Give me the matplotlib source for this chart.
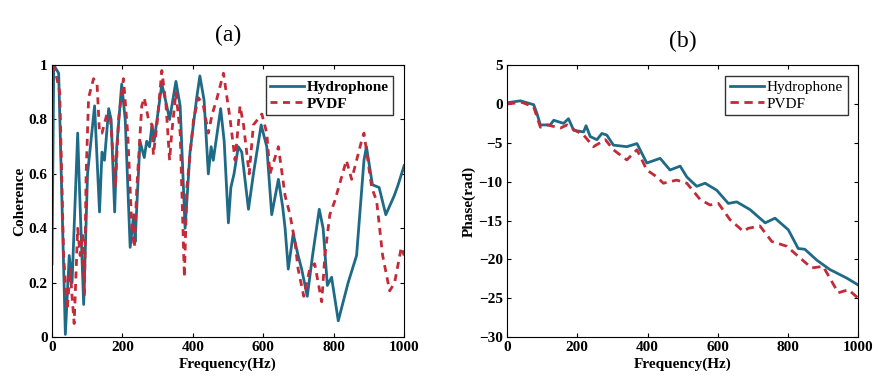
import matplotlib.pyplot as plt

plt.rcParams['font.family'] = ['Liberation Serif', 'DejaVu Serif']

TEAL = '#1f6a86'
RED = '#c42a38'

# (a) coherence
freq_hyd_a = [0, 5, 19, 38, 49, 57, 73, 78, 90, 101, 121, 135, 142, 149, 161, 168, 178, 184,
              198, 208, 222, 232, 236, 250, 262, 269, 277, 284, 290, 312, 326, 334, 352, 364,
              378, 392, 411, 420, 432, 444, 452, 458, 479, 489, 501, 508, 517, 529, 539, 558,
              572, 594, 610, 624, 643, 655, 662, 671, 685, 699, 709, 725, 740, 759, 770, 782,
              794, 813, 841, 865, 886, 893, 910, 929, 948, 972, 983, 1000]
coh_hyd = [0.27, 1.0, 0.97, 0.01, 0.30, 0.20, 0.75, 0.55, 0.12, 0.60, 0.85, 0.46, 0.68, 0.65,
           0.84, 0.80, 0.46, 0.70, 0.93, 0.80, 0.33, 0.45, 0.35, 0.72, 0.66, 0.72, 0.70, 0.78,
           0.72, 0.93, 0.85, 0.80, 0.94, 0.85, 0.40, 0.68, 0.88, 0.96, 0.87, 0.60, 0.70, 0.65,
           0.84, 0.72, 0.42, 0.55, 0.60, 0.70, 0.68, 0.47, 0.60, 0.78, 0.70, 0.45, 0.58, 0.48,
           0.40, 0.25, 0.38, 0.30, 0.25, 0.15, 0.30, 0.47, 0.40, 0.19, 0.22, 0.06, 0.20, 0.30,
           0.65, 0.70, 0.56, 0.55, 0.45, 0.52, 0.56, 0.63]

freq_pvdf_a = [0, 5, 14, 22, 33, 43, 52, 57, 63, 73, 80, 87, 92, 97, 104, 118, 128, 135, 142,
               156, 166, 180, 189, 203, 215, 227, 234, 241, 255, 262, 274, 284, 288, 298, 312,
               324, 334, 340, 352, 364, 376, 383, 402, 416, 430, 444, 455, 467, 487, 506, 520,
               534, 544, 560, 572, 596, 610, 619, 643, 662, 676, 690, 699, 715, 732, 746, 766,
               775, 789, 803, 836, 851, 879, 886, 908, 922, 939, 959, 973, 992, 1000]
coh_pvdf = [0.95, 1.0, 0.95, 0.90, 0.30, 0.10, 0.25, 0.15, 0.05, 0.40, 0.30, 0.38, 0.15, 0.60,
            0.88, 0.95, 0.93, 0.75, 0.75, 0.82, 0.80, 0.55, 0.80, 0.95, 0.75, 0.40, 0.33, 0.55,
            0.85, 0.88, 0.80, 0.78, 0.67, 0.78, 0.98, 0.85, 0.65, 0.75, 0.90, 0.75, 0.22, 0.55,
            0.80, 0.88, 0.85, 0.75, 0.82, 0.87, 0.97, 0.80, 0.65, 0.85, 0.78, 0.60, 0.78, 0.82,
            0.75, 0.60, 0.70, 0.52, 0.45, 0.35, 0.25, 0.15, 0.25, 0.27, 0.13, 0.30, 0.45, 0.50,
            0.65, 0.58, 0.72, 0.75, 0.55, 0.50, 0.30, 0.17, 0.20, 0.33, 0.30]

# (b) phase
freq_hyd_b = [0, 38, 76, 85, 95, 123, 133, 161, 175, 190, 218, 225, 237, 256, 270, 284, 303,
              341, 370, 398, 436, 464, 493, 512, 540, 564, 597, 630, 654, 692, 735, 763, 801,
              829, 848, 882, 919, 967, 1000]
phase_hyd = [0.15, 0.4, -0.1, -1.2, -2.7, -2.7, -2.1, -2.5, -1.9, -3.4, -3.6, -2.8, -4.2, -4.6,
             -3.8, -4.0, -5.3, -5.5, -5.1, -7.6, -7.0, -8.5, -8.0, -9.4, -10.6, -10.2, -11.1,
             -12.8, -12.6, -13.6, -15.3, -14.7, -16.2, -18.6, -18.7, -20.1, -21.3, -22.4, -23.3]

freq_pvdf_b = [0, 43, 76, 95, 114, 152, 171, 190, 218, 246, 280, 303, 341, 370, 398, 427, 445,
               483, 512, 550, 578, 602, 635, 673, 687, 720, 754, 796, 834, 867, 900, 943, 972, 1000]
phase_pvdf = [0.0, 0.2, -0.4, -3.0, -2.7, -3.1, -2.7, -3.3, -4.0, -5.5, -4.6, -5.9, -7.2, -5.9,
              -8.5, -9.4, -10.2, -9.8, -10.2, -12.3, -13.0, -12.8, -14.9, -16.4, -16.0, -15.7,
              -17.7, -18.3, -19.8, -21.1, -20.9, -24.3, -23.9, -25.0]

fig = plt.figure(figsize=(8.87, 3.92), dpi=100)
ax1 = fig.add_axes([0.0586, 0.140, 0.397, 0.694])
ax2 = fig.add_axes([0.5716, 0.140, 0.396, 0.694])

ax1.plot(freq_hyd_a, coh_hyd, color=TEAL, lw=2, label='Hydrophone')
ax1.plot(freq_pvdf_a, coh_pvdf, color=RED, lw=2, ls=(0, (2.5, 2)), label='PVDF')
ax1.set_xlim(0, 1000)
ax1.set_ylim(0, 1)
ax1.set_xticks([0, 200, 400, 600, 800, 1000])
ax1.set_yticks([0, 0.2, 0.4, 0.6, 0.8, 1])
ax1.set_yticklabels(['0', '0.2', '0.4', '0.6', '0.8', '1'])
ax1.set_xlabel('Frequency(Hz)', fontsize=11, fontweight='bold', labelpad=2)
ax1.set_ylabel('Coherence', fontsize=11, fontweight='bold', labelpad=2)
ax1.legend(loc='upper right', prop={'weight': 'bold', 'size': 11}, fancybox=False,
           edgecolor='black', handlelength=2.2, borderpad=0.3, labelspacing=0.2,
           handletextpad=0.2, borderaxespad=0.7)
ax1.set_title('(a)', fontsize=17, pad=17)

ax2.plot(freq_hyd_b, phase_hyd, color=TEAL, lw=2, label='Hydrophone')
ax2.plot(freq_pvdf_b, phase_pvdf, color=RED, lw=2, ls=(0, (3, 2)), label='PVDF')
ax2.set_xlim(0, 1000)
ax2.set_ylim(-30, 5)
ax2.set_xticks([0, 200, 400, 600, 800, 1000])
ax2.set_yticks([5, 0, -5, -10, -15, -20, -25, -30])
ax2.set_xlabel('Frequency(Hz)', fontsize=11, fontweight='bold', labelpad=2)
ax2.set_ylabel('Phase(rad)', fontsize=11, fontweight='bold', labelpad=2)
ax2.legend(loc='upper right', prop={'size': 11}, fancybox=False,
           edgecolor='black', handlelength=2.2, borderpad=0.3, labelspacing=0.2,
           handletextpad=0.2, borderaxespad=0.7)
ax2.set_title('(b)', fontsize=17, pad=13)

for ax in (ax1, ax2):
    ax.tick_params(direction='in', top=True, right=True, length=3, labelsize=11, pad=3)
    for lab in ax.get_xticklabels() + ax.get_yticklabels():
        lab.set_fontweight('bold')
    for s in ax.spines.values():
        s.set_linewidth(0.8)

fig.savefig('out.png', dpi=100)
